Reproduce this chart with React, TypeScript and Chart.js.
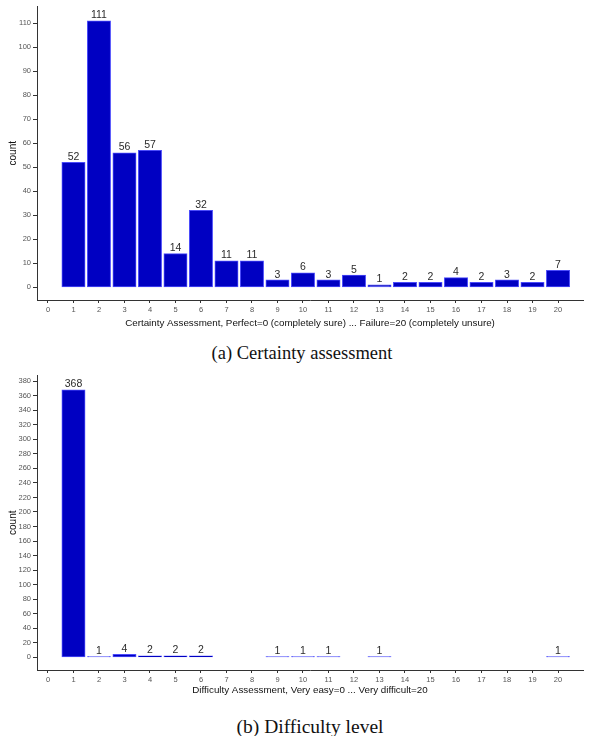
import React, { useEffect, useRef } from 'react';
import { Chart, registerables } from 'chart.js';

Chart.register(...registerables);

const certaintyCategories = [1, 2, 3, 4, 5, 6, 7, 8, 9, 10, 11, 12, 13, 14, 15, 16, 17, 18, 19, 20];
const certaintyCounts = [52, 111, 56, 57, 14, 32, 11, 11, 3, 6, 3, 5, 1, 2, 2, 4, 2, 3, 2, 7];

const difficultyCategories = [1, 2, 3, 4, 5, 6, 7, 8, 9, 10, 11, 12, 13, 14, 15, 16, 17, 18, 19, 20];
const difficultyCounts = [368, 1, 4, 2, 2, 2, null, null, 1, 1, 1, null, 1, null, null, null, null, null, null, 1];

const xTickValues = [0, 1, 2, 3, 4, 5, 6, 7, 8, 9, 10, 11, 12, 13, 14, 15, 16, 17, 18, 19, 20];
const certaintyYTicks = [0, 10, 20, 30, 40, 50, 60, 70, 80, 90, 100, 110];
const difficultyYTicks = [0, 20, 40, 60, 80, 100, 120, 140, 160, 180, 200, 220, 240, 260, 280, 300, 320, 340, 360, 380];

const certaintyXTitle = 'Certainty Assessment, Perfect=0 (completely sure) ... Failure=20 (completely unsure)';
const difficultyXTitle = 'Difficulty Assessment, Very easy=0 ... Very difficult=20';
const captionA = '(a) Certainty assessment';
const captionB = '(b) Difficulty level';

const FILL = '#0000C2';
const EDGE = '#4B4BFA';
const SANS = '"Liberation Sans", Arial, sans-serif';

const barLabels = {
  id: 'barLabels',
  afterDatasetsDraw(chart: any) {
    const ctx = chart.ctx;
    const meta = chart.getDatasetMeta(0);
    const data = chart.data.datasets[0].data as any[];
    ctx.save();
    ctx.font = `10.5px ${SANS}`;
    ctx.fillStyle = '#2b2b2b';
    ctx.textAlign = 'center';
    ctx.textBaseline = 'alphabetic';
    meta.data.forEach((el: any, i: number) => {
      const v = data[i]?.y;
      if (v == null || !isFinite(el.x) || !isFinite(el.y)) return;
      ctx.fillText(String(v), el.x, el.y - 2.5);
    });
    ctx.restore();
  },
};

function makeConfig(
  cats: number[],
  counts: (number | null)[],
  yTicks: number[],
  yMin: number,
  yMax: number,
  xTitle: string,
  xAxisHeight: number,
  titlePadBottom: number,
  thinLimit: number
): any {
  const points = cats
    .map((c, i) => ({ x: c, y: counts[i] }))
    .filter((p) => p.y !== null && p.y !== undefined);
  return {
    type: 'bar',
    data: {
      datasets: [
        {
          data: points,
          backgroundColor: (ctx: any) => (ctx.raw && ctx.raw.y <= thinLimit ? EDGE : FILL),
          borderColor: EDGE,
          borderWidth: 1,
          borderSkipped: false,
          inflateAmount: 0.5,
          barPercentage: 0.9,
          categoryPercentage: 1,
        },
      ],
    },
    options: {
      animation: false,
      responsive: false,
      maintainAspectRatio: false,
      layout: { padding: { top: 6, right: 9, bottom: 4, left: 0 } },
      plugins: { legend: { display: false }, tooltip: { enabled: false }, title: { display: false } },
      scales: {
        x: {
          type: 'linear',
          min: -0.43,
          max: 20.98,
          offset: false,
          afterBuildTicks: (s: any) => {
            s.ticks = xTickValues.map((v) => ({ value: v }));
          },
          afterFit: (s: any) => {
            s.height = xAxisHeight;
          },
          grid: { drawOnChartArea: false, drawTicks: true, tickLength: 3, color: '#333333', lineWidth: 1, offset: false },
          border: { display: true, color: '#333333', width: 1 },
          ticks: { font: { size: 7.5, family: SANS }, color: '#555555', padding: 2, autoSkip: false, maxRotation: 0 },
          title: {
            display: true,
            text: xTitle,
            font: { size: 9.8, family: SANS },
            color: '#111111',
            padding: { top: 0, bottom: titlePadBottom },
          },
        },
        y: {
          type: 'linear',
          min: yMin,
          max: yMax,
          afterBuildTicks: (s: any) => {
            s.ticks = yTicks.map((v) => ({ value: v }));
          },
          afterFit: (s: any) => {
            s.width = 37;
          },
          grid: { drawOnChartArea: false, drawTicks: true, tickLength: 4, color: '#333333', lineWidth: 1 },
          border: { display: true, color: '#333333', width: 1 },
          ticks: { font: { size: 7.5, family: SANS }, color: '#555555', padding: 2 },
          title: {
            display: true,
            text: 'count',
            font: { size: 10, family: SANS },
            color: '#111111',
            padding: { top: 7, bottom: 0 },
          },
        },
      },
    },
    plugins: [barLabels],
  };
}

function BarChart(props: { config: any; width: number; height: number; top: number }) {
  const ref = useRef<HTMLCanvasElement | null>(null);
  useEffect(() => {
    if (!ref.current) return;
    const chart = new Chart(ref.current, props.config);
    return () => chart.destroy();
  }, []);
  return (
    <canvas
      ref={ref}
      width={props.width}
      height={props.height}
      style={{ position: 'absolute', left: 0, top: props.top, width: props.width, height: props.height, display: 'block' }}
    />
  );
}

function Caption(props: { text: string; cx: number; cy: number; size: number }) {
  return (
    <div
      style={{
        position: 'absolute',
        left: props.cx - 200,
        width: 400,
        top: props.cy - 12,
        height: 24,
        lineHeight: '24px',
        textAlign: 'center',
        fontFamily: '"Liberation Serif", "Times New Roman", serif',
        fontSize: props.size,
        color: '#111111',
      }}
    >
      {props.text}
    </div>
  );
}

export default function App() {
  const configA = makeConfig(certaintyCategories, certaintyCounts, certaintyYTicks, -5.3, 117, certaintyXTitle, 32, 3, 0);
  const configB = makeConfig(difficultyCategories, difficultyCounts, difficultyYTicks, -17.4, 387.8, difficultyXTitle, 28, 2, 1);
  return (
    <div style={{ position: 'absolute', left: 0, top: 0, width: 592, height: 736, background: '#ffffff', overflow: 'hidden' }}>
      <BarChart config={configA} width={592} height={336} top={0} />
      <Caption text={captionA} cx={302} cy={353} size={18.5} />
      <BarChart config={configB} width={592} height={333} top={369} />
      <Caption text={captionB} cx={310} cy={727} size={19.5} />
    </div>
  );
}
